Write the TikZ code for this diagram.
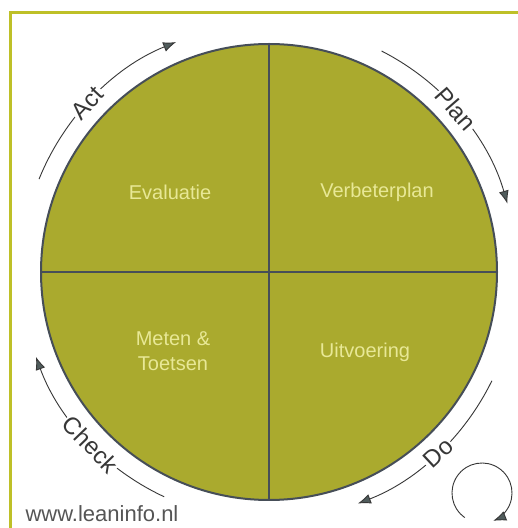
\documentclass[tikz,border=0pt]{standalone}
\usepackage{fontspec}
\setmainfont{Liberation Sans}
\usetikzlibrary{arrows.meta}
\definecolor{olijf}{RGB}{170,170,46}
\definecolor{tekstgeel}{RGB}{232,232,150}
\definecolor{rand}{RGB}{70,78,88}
\definecolor{donker}{RGB}{55,55,55}
\definecolor{punt}{RGB}{80,92,92}
\definecolor{kadergeel}{RGB}{190,192,40}
\tikzset{%
    >={Latex[length=13pt,width=10pt,fill=punt]},
    kwadrant/.style={text=tekstgeel,font=\fontsize{20}{25}\selectfont,align=center},
    fase/.style={fill=white,inner sep=1.5pt,text=donker,font=\fontsize{24}{24}\selectfont},
    pijl/.style={draw=donker,line width=0.9pt,->},
    kader/.style={draw=kadergeel,line width=3pt},
    deler/.style={draw=rand,line width=2pt}
}

\begin{document}
\begin{tikzpicture}[x=1pt,y=1pt]
            \useasboundingbox (0,0) rectangle (518,528);
            \fill[white] (0,0) rectangle (518,528);
            \draw[kader] (10,0) -- (10,515) -- (518,515);
            %%%%%
            \coordinate (m) at (269,256);
            \node [circle,deler,fill=olijf,minimum size=456pt,inner sep=0pt] (cirkel) at (m) {};
            \draw[deler] (cirkel.north) -- (cirkel.south);
            \draw[deler] (cirkel.west) -- (cirkel.east);
            \node [kwadrant] (evaluatie) at (170,336) {Evaluatie};
            \node [kwadrant] (plan) at (377,336) {Verbeterplan};
            \node [kwadrant] (meten) at (173,177) {Meten \&\\ Toetsen};
            \node [kwadrant] (uitvoering) at (365,176) {Uitvoering};
            %%%%%
            \coordinate (act-s) at ([shift={(158:248)}]m);
            \coordinate (plan-s) at ([shift={(63:248)}]m);
            \coordinate (do-s) at ([shift={(-26:248)}]m);
            \coordinate (check-s) at ([shift={(-115:248)}]m);
            \draw[pijl] (act-s) arc[start angle=158,end angle=112,radius=248];
            \draw[pijl] (plan-s) arc[start angle=63,end angle=16,radius=248];
            \draw[pijl] (do-s) arc[start angle=-26,end angle=-69,radius=248];
            \draw[pijl] (check-s) arc[start angle=-115,end angle=-160,radius=248];
            \node [fase,rotate=47] (act) at ([shift={(137:248)}]m) {Act};
            \node [fase,rotate=-49] (plan-l) at ([shift={(41:248)}]m) {Plan};
            \node [fase,rotate=43] (do) at ([shift={(-47:248)}]m) {Do};
            \node [fase,rotate=-46] (check) at ([shift={(-136:248)}]m) {Check};
            %%%%%
            \coordinate (k) at (482,35);
            \coordinate (k-s) at ([shift={(235:30)}]k);
            \draw[pijl] (k-s) arc[start angle=235,end angle=-68,radius=30];
            \node [anchor=west,text=donker!85,font=\fontsize{22}{22}\selectfont] (url) at (22,14) {www.leaninfo.nl};
\end{tikzpicture}
\end{document}
